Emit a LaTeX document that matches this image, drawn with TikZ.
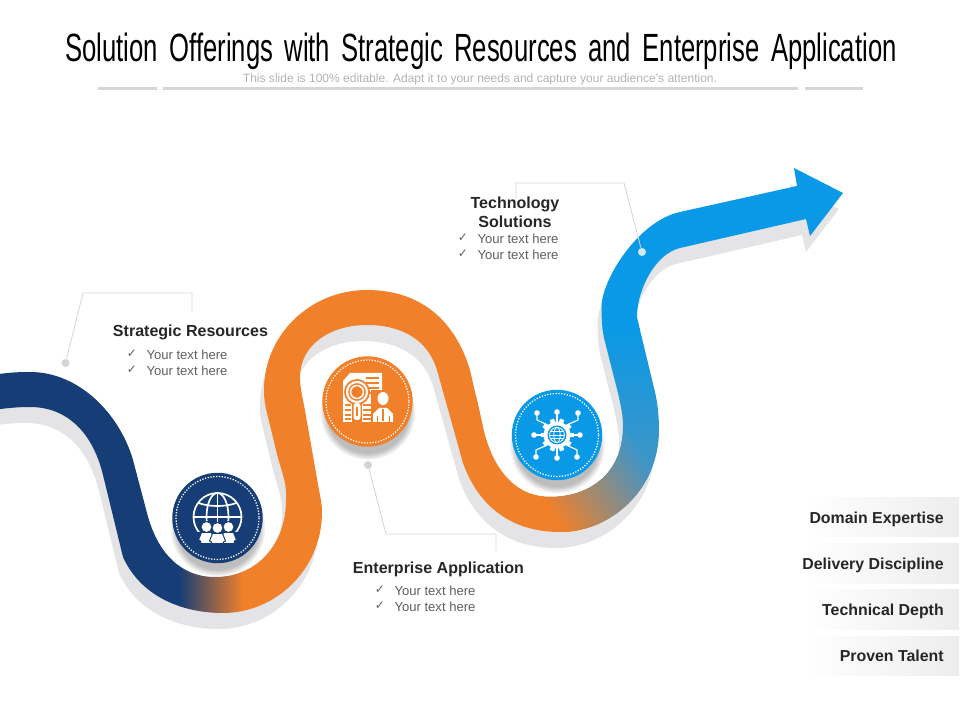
\documentclass[tikz,border=0pt]{standalone}
\usepackage{fontspec}
\setmainfont{Liberation Sans}
\newfontfamily\titlefont[FakeStretch=0.652,WordSpace=1.6]{Liberation Sans}
\newfontfamily\checkfont{DejaVu Sans}
\usetikzlibrary{shadows,fadings}

\definecolor{navyC}{HTML}{163D75}
\definecolor{orangeC}{HTML}{F0802A}
\definecolor{blueC}{HTML}{0A99E6}
\definecolor{tealC}{HTML}{4295C4}
\definecolor{shadowC}{HTML}{E4E4E6}
\definecolor{inkC}{HTML}{262626}
\definecolor{itemC}{HTML}{5F5F5F}
\definecolor{leaderC}{HTML}{D4D4D4}

\newcommand{\ribbonpath}{(-8,375) .. controls (5,373) and (15,372) .. (30,372)
	.. controls (80,372) and (120,415) .. (133,460) -- (147,513)
	.. controls (157,552) and (180,577) .. (215,577)
	.. controls (258,577) and (286,543) .. (286,500)
	.. controls (287,485) and (283,475) .. (278,458) -- (267,413)
	.. controls (265,405) and (264,399) .. (264,390)
	.. controls (264,335) and (310,290) .. (367,290)
	.. controls (420,290) and (455,320) .. (470,370) -- (483,427)
	.. controls (492,468) and (515,497) .. (550,497)
	.. controls (590,497) and (623,473) .. (623,427)
	.. controls (623,415) and (621,407) .. (618,393) -- (604,338)
	.. controls (602,328) and (601.5,318) .. (601.5,307)
	.. controls (601.5,280) and (638,221) .. (680,212) -- (797,186)
	-- (794,168) -- (843,193) -- (810,236) -- (806,219) -- (680,248)
	.. controls (655,254) and (637,290) .. (637,317) -- (640,330) -- (655,392)
	.. controls (658,405) and (659,418) .. (659,430)
	.. controls (659,490) and (610,532) .. (560,532)
	.. controls (510,532) and (478,505) .. (463,463) -- (437,370)
	.. controls (428,340) and (402,325) .. (367,325)
	.. controls (330,325) and (300,345) .. (300,377)
	.. controls (300,387) and (302,395) .. (304,405) -- (319,490)
	.. controls (321,500) and (322,505) .. (322,512)
	.. controls (322,570) and (275,613) .. (223,613)
	.. controls (180,613) and (140,595) .. (123,557) -- (103,475)
	.. controls (92,430) and (65,407) .. (30,407)
	.. controls (15,407) and (5,408.5) .. (-8,410) -- cycle}

\tikzset{
	headtxt/.style={text=inkC,font=\fontsize{11.4}{13.6}\selectfont\bfseries,align=center,inner sep=0pt},
	itemtxt/.style={text=itemC,font=\fontsize{9.3}{11}\selectfont,inner sep=0pt},
	checktxt/.style={text=itemC,font=\fontsize{8.5}{9}\selectfont\checkfont,inner sep=0pt},
	leader/.style={draw=leaderC,line width=0.6pt},
	leaderdot/.style={circle,fill=leaderC,minimum size=0.2cm,inner sep=0pt},
	badge/.style={circle,minimum size=2.26cm,inner sep=0pt,circular drop shadow={shadow xshift=0pt,shadow yshift=-7pt,shadow scale=1.06,fill=black!26}},
	ring/.style={white,line width=0.9pt,dash pattern=on 0.9pt off 1.1pt},
	tagbox/.style={minimum width=3.9cm,minimum height=0.98cm,inner sep=0pt,left color=white,right color=black!7},
	tagtxt/.style={text=inkC,font=\fontsize{11.3}{13}\selectfont\bfseries,anchor=base east,inner sep=0pt},
	titlerule/.style={draw=black!16,line width=1.8pt}
}

\begin{document}
\begin{tikzpicture}[x=0.025cm,y=-0.025cm]
	\useasboundingbox (0,0) rectangle (960,720);

	% heading
	\node[inner sep=0pt,font=\fontsize{28}{32}\selectfont\titlefont] (title) at (481,51.5) {Solution Offerings with Strategic Resources and Enterprise Application};
	\node[inner sep=0pt,text=black!30,font=\fontsize{8.55}{10}\selectfont] (subtitle) at (480,79.5) {This slide is 100\% editable. Adapt it to your needs and capture your audience's attention.};
	\draw[titlerule] (98,88.5) -- (157,88.5);
	\draw[titlerule] (163,88.5) -- (798,88.5);
	\draw[titlerule] (805,88.5) -- (863,88.5);

	% ribbon
	\fill[shadowC,shift={(-4,16)}] \ribbonpath;
	\begin{scope}
		\clip \ribbonpath;
		\fill[blueC] (590,150) rectangle (860,330);
		\shade[top color=blueC,bottom color=tealC] (590,329) rectangle (680,470);
		\fill[tealC] (590,469) rectangle (680,560);
		\fill[navyC] (-10,340) rectangle (180,640);
		\shade[left color=navyC,right color=orangeC] (179,500) rectangle (243,640);
		\fill[orangeC] (242,280) rectangle (600,640);
		\foreach \s [evaluate=\s as \p using (681-\s)/1.25] in {681,676,...,556}
			\fill[orangeC!\p!tealC] (\s-82.5,395) -- (\s+55,595) -- (\s+43,595) -- (\s-94.5,395) -- cycle;
	\end{scope}

	% badges
	\node[badge,fill=navyC] (navybadge) at (217.5,518) {};
	\node[badge,fill=orangeC] (orangebadge) at (367.5,401.5) {};
	\node[badge,fill=blueC] (bluebadge) at (557,435) {};
	\draw[ring] (217.5,518) circle[radius=41.5];
	\draw[ring] (367.5,401.5) circle[radius=41.5];
	\draw[ring] (557,435) circle[radius=41.5];

	% globe and people
	\begin{scope}[shift={(217.5,517)}]
		\draw[white,line width=1.2pt] (0,0) circle[radius=24];
		\draw[white,line width=1.2pt] (0,0) circle[x radius=11,y radius=24];
		\draw[white,line width=1.2pt] (0,-24) -- (0,14);
		\draw[white,line width=1.2pt] (-24,0) -- (24,0);
		\draw[white,line width=1.2pt] (-19,-14) .. controls (-8,-10) and (8,-10) .. (19,-14);
		\fill[navyC] (-25,15) rectangle (25,27);
		\foreach \px/\py in {-11/10,11/10,0/11} {
			\fill[white,draw=navyC,line width=0.7pt] (\px,\py) circle[radius=5.5];
			\fill[white,draw=navyC,line width=0.7pt] (\px-5,\py+5.5) -- (\px+5,\py+5.5) -- (\px+8,\py+13) -- (\px+6,\py+14) -- (\px+5.5,26.5) -- (\px-5.5,26.5) -- (\px-6,\py+14) -- (\px-8,\py+13) -- cycle;
		}
	\end{scope}

	% document, lens and person
	\fill[white] (343,381) -- (350,373) -- (382,373) -- (382,422) -- (343,422) -- cycle;
	\foreach \ly in {378,383,388,393}
		\draw[orangeC,line width=0.8pt] (366,\ly) -- (379,\ly);
	\foreach \ly in {405,410,415,419} {
		\draw[orangeC,line width=0.8pt] (345,\ly) -- (351,\ly);
		\draw[orangeC,line width=0.8pt] (363,\ly) -- (371,\ly);
	}
	\fill[orangeC] (357,392) circle[radius=13];
	\draw[white,line width=1.5pt] (357,392) circle[radius=10];
	\draw[white,line width=1pt] (357,392) circle[radius=6.5];
	\fill[orangeC] (352,403) rectangle (362,422);
	\fill[white,rounded corners=2pt] (353.5,403) rectangle (360.5,420);
	\draw[orangeC,line width=0.8pt] (357,407) -- (357,416);
	\fill[orangeC] (371,390) rectangle (394,423);
	\fill[white] (383,398.5) circle[x radius=5.5,y radius=6.5];
	\fill[white] (373,422) -- (373,414) -- (379,408) -- (387,408) -- (393,414) -- (393,422) -- cycle;
	\draw[orangeC,line width=0.9pt] (383,409) -- (383,421);
	\draw[orangeC,line width=0.7pt] (377,416) -- (377,422);
	\draw[orangeC,line width=0.7pt] (389,416) -- (389,422);

	% gear and network
	\begin{scope}[shift={(557,435)}]
		\foreach \a in {0,90,180,270} {
			\draw[white,line width=0.8pt] (\a:12) -- (\a:22);
			\fill[white] (\a:23) circle[radius=2.8];
		}
		\foreach \sx/\sy in {-20/-22,21/-22,-21/22,20/22} {
			\draw[white,line width=0.8pt] (\sx,\sy) -- (\sx,\sy*0.68) -- (\sx*0.45,\sy*0.45);
			\fill[white] (\sx,\sy) circle[radius=2.8];
		}
		\foreach \a in {0,36,...,324}
			\draw[white,line width=3.2pt] (\a:11) -- (\a:16.5);
		\fill[white] (0,0) circle[radius=13.5];
		\fill[blueC] (0,0) circle[radius=9.5];
		\draw[white,line width=0.6pt] (0,0) circle[radius=7.5];
		\draw[white,line width=0.6pt] (0,0) circle[x radius=3.2,y radius=7.5];
		\draw[white,line width=0.6pt] (-7.5,0) -- (7.5,0);
		\draw[white,line width=0.6pt] (-6.5,-3.7) -- (6.5,-3.7);
		\draw[white,line width=0.6pt] (-6.5,3.7) -- (6.5,3.7);
	\end{scope}

	% strategic resources
	\node[leaderdot] (stratdot) at (65.5,363) {};
	\coordinate (stratbendA) at (83,293);
	\coordinate (stratbendB) at (192,293);
	\coordinate (stratend) at (192,312);
	\draw[leader] (stratdot) -- (stratbendA) -- (stratbendB) -- (stratend);
	\node[headtxt] (strathead) at (190.5,332.5) {Strategic Resources};
	\node[checktxt] (stratcheckA) at (132,353.5) {✓};
	\node[checktxt] (stratcheckB) at (132,369.5) {✓};
	\node[itemtxt] (stratitemA) at (187,354.5) {Your text here};
	\node[itemtxt] (stratitemB) at (187,370.5) {Your text here};

	% enterprise application
	\node[leaderdot] (entdot) at (368,465) {};
	\coordinate (entbendA) at (386,534);
	\coordinate (entbendB) at (496,534);
	\coordinate (entend) at (496,551);
	\draw[leader] (entdot) -- (entbendA) -- (entbendB) -- (entend);
	\node[headtxt] (enthead) at (438.5,569.5) {Enterprise Application};
	\node[checktxt] (entcheckA) at (380,589.5) {✓};
	\node[checktxt] (entcheckB) at (380,605.5) {✓};
	\node[itemtxt] (entitemA) at (435,590.5) {Your text here};
	\node[itemtxt] (entitemB) at (435,606.5) {Your text here};

	% technology solutions
	\node[leaderdot,fill=leaderC!60!blueC!35] (techdot) at (642,252) {};
	\coordinate (techbendA) at (624,183);
	\coordinate (techbendB) at (516,183);
	\coordinate (techend) at (516,201);
	\draw[leader] (techdot) -- (techbendA) -- (techbendB) -- (techend);
	\node[headtxt] (techhead) at (515,212.5) {Technology\\Solutions};
	\node[checktxt] (techcheckA) at (463,237.5) {✓};
	\node[checktxt] (techcheckB) at (463,253.5) {✓};
	\node[itemtxt] (techitemA) at (518,238.5) {Your text here};
	\node[itemtxt] (techitemB) at (518,254.5) {Your text here};

	% tags
	\node[tagbox] (domainbox) at (881,517) {};
	\node[tagbox] (deliverybox) at (881,563.5) {};
	\node[tagbox] (depthbox) at (881,609.5) {};
	\node[tagbox] (talentbox) at (881,656) {};
	\node[tagtxt] (domaintxt) at (944,523.5) {Domain Expertise};
	\node[tagtxt] (deliverytxt) at (944,569.5) {Delivery Discipline};
	\node[tagtxt] (depthtxt) at (944,615.5) {Technical Depth};
	\node[tagtxt] (talenttxt) at (944,661.5) {Proven Talent};
\end{tikzpicture}
\end{document}
